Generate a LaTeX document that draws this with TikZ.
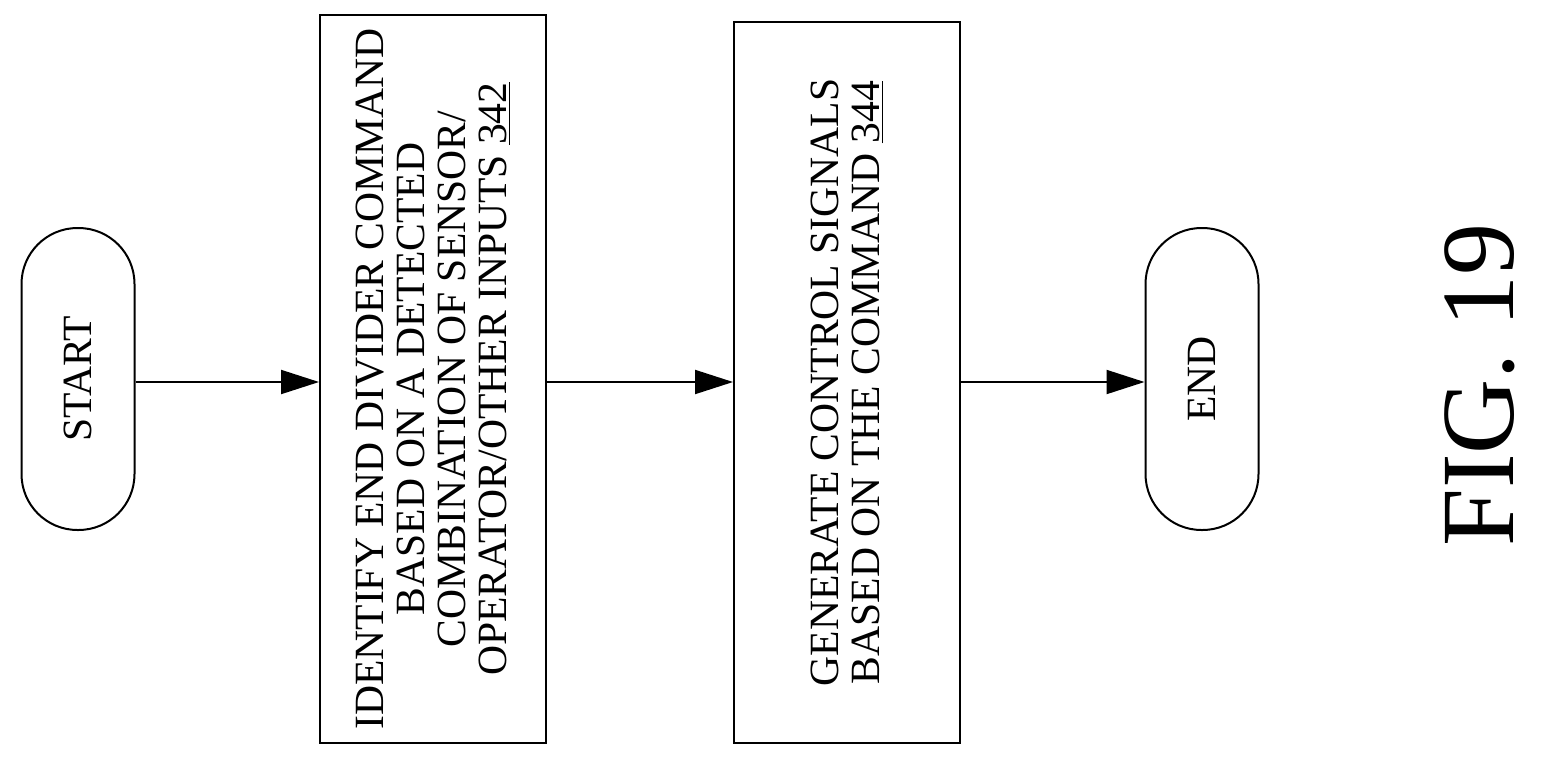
\documentclass[tikz,border=0pt]{standalone}
\usepackage{fontspec}
\setmainfont{Liberation Serif}
\usetikzlibrary{arrows.meta}
\begin{document}
\begin{tikzpicture}[x=0.5pt,y=-0.5pt,
  base/.style={draw,line width=1pt,rotate=90,align=center,font=\fontsize{20.8}{20.5}\selectfont,inner sep=0pt},
  term/.style={base,minimum width=151pt,minimum height=56.5pt,rounded corners=28pt},
  proc/.style={base,minimum width=364pt,minimum height=113pt},
  arr/.style={line width=1pt,-{Triangle[length=19pt,width=12pt]}}]
\useasboundingbox (0,0) rectangle (1541,766);
\node[term] (s) at (78,379) {START};
\node[proc] (a) at (433,379) {IDENTIFY END DIVIDER COMMAND\\BASED ON A DETECTED\\COMBINATION OF SENSOR/\\OPERATOR/OTHER INPUTS \underline{342}};
\node[proc,minimum width=360.5pt] (b) at (847,382.5) {GENERATE CONTROL SIGNALS\\BASED ON THE COMMAND \underline{344}};
\node[term] (e) at (1202,379) {END};
\draw[arr] (s.south |- 0,382) -- (a.north |- 0,382);
\draw[arr] (a.south |- 0,382) -- (b.north |- 0,382);
\draw[arr] (b.south |- 0,382) -- (e.north |- 0,382);
\node[rotate=90,font=\fontsize{52}{60}\selectfont] (f) at (1480,385) {FIG. 19};
\end{tikzpicture}
\end{document}
